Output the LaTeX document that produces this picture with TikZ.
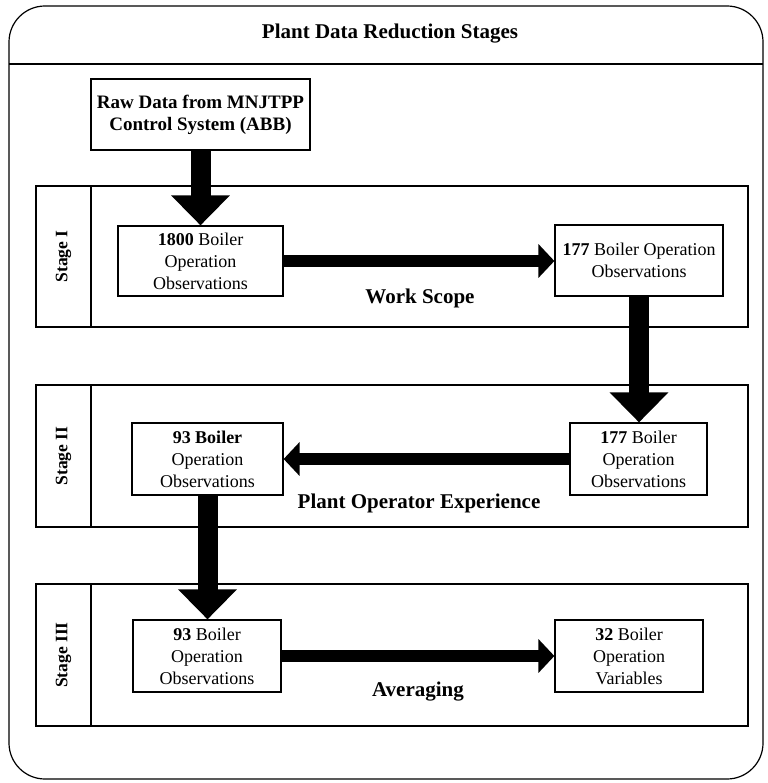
\documentclass[tikz,border=0pt]{standalone}
\usepackage{fontspec}
\setmainfont{Liberation Serif}
\usetikzlibrary{arrows.meta}

\tikzset{
  box/.style={draw, line width=1.2pt, fill=white, align=center, inner sep=0pt,
              font=\fontsize{18}{22}\selectfont},
  band/.style={draw, line width=1.2pt},
  stagelabel/.style={rotate=90, font=\fontsize{17.5}{20}\selectfont\bfseries},
  steplabel/.style={font=\fontsize{21}{24}\selectfont\bfseries},
  downarrow/.style={line width=20pt, -{Triangle[length=30pt,width=57pt]}},
  sidearrow/.style={line width=12.5pt, -{Triangle[length=16pt,width=33pt]}}
}

\begin{document}
\begin{tikzpicture}[x=1pt,y=-1pt]
\useasboundingbox (0,0) rectangle (767,783);

% outer frame and title bar
\draw[line width=1.2pt, rounded corners=36pt] (9,6) rectangle (763,779);
\draw[line width=1.2pt] (9,64) -- (763,64);
\node[font=\fontsize{21}{24}\selectfont\bfseries] (title) at (390,34) {Plant Data Reduction Stages};

% stage bands with label columns
\draw[band] (36,186) rectangle (748,327);
\draw[band] (91,186) -- (91,327);
\node[stagelabel] (s1) at (63.5,256.5) {Stage I};

\draw[band] (36,385) rectangle (748,527);
\draw[band] (91,385) -- (91,527);
\node[stagelabel] (s2) at (63.5,456) {Stage II};

\draw[band] (36,584) rectangle (748,726);
\draw[band] (91,584) -- (91,726);
\node[stagelabel] (s3) at (63.5,655) {Stage III};

% boxes
\node[box, minimum width=219pt, minimum height=71pt, font=\fontsize{19}{22}\selectfont\bfseries]
  (raw) at (200.5,114.5) {Raw Data from MNJTPP\\Control System (ABB)};

\node[box, minimum width=165pt, minimum height=70pt] (b1800) at (200.5,261)
  {\textbf{1800} Boiler\\Operation\\Observations};
\node[box, minimum width=168pt, minimum height=71pt] (b177a) at (639,260.5)
  {\textbf{177} Boiler Operation\\Observations};

\node[box, minimum width=151pt, minimum height=72pt] (b93b) at (207.5,459)
  {\textbf{93 Boiler}\\Operation\\Observations};
\node[box, minimum width=137pt, minimum height=72pt] (b177b) at (638.5,459)
  {\textbf{177} Boiler\\Operation\\Observations};

\node[box, minimum width=148pt, minimum height=72pt] (b93c) at (207,656)
  {\textbf{93} Boiler\\Operation\\Observations};
\node[box, minimum width=148pt, minimum height=72pt] (b32) at (629,656)
  {\textbf{32} Boiler\\Operation\\Variables};

% step labels
\node[steplabel] (ws) at (420,298) {Work Scope};
\node[steplabel] (poe) at (419,503) {Plant Operator Experience};
\node[steplabel] (avg) at (418,692) {Averaging};

% flow arrows
\draw[downarrow] (raw.south) -- (b1800.north);
\draw[sidearrow] (b1800.east) -- (b177a.west |- b1800.east);
\draw[downarrow] (b177a.south) -- (b177b.north -| b177a.south);
\draw[sidearrow] (b177b.west) -- (b93b.east);
\draw[downarrow] (b93b.south) -- (b93c.north -| b93b.south);
\draw[sidearrow] (b93c.east) -- (b32.west);
\end{tikzpicture}
\end{document}
